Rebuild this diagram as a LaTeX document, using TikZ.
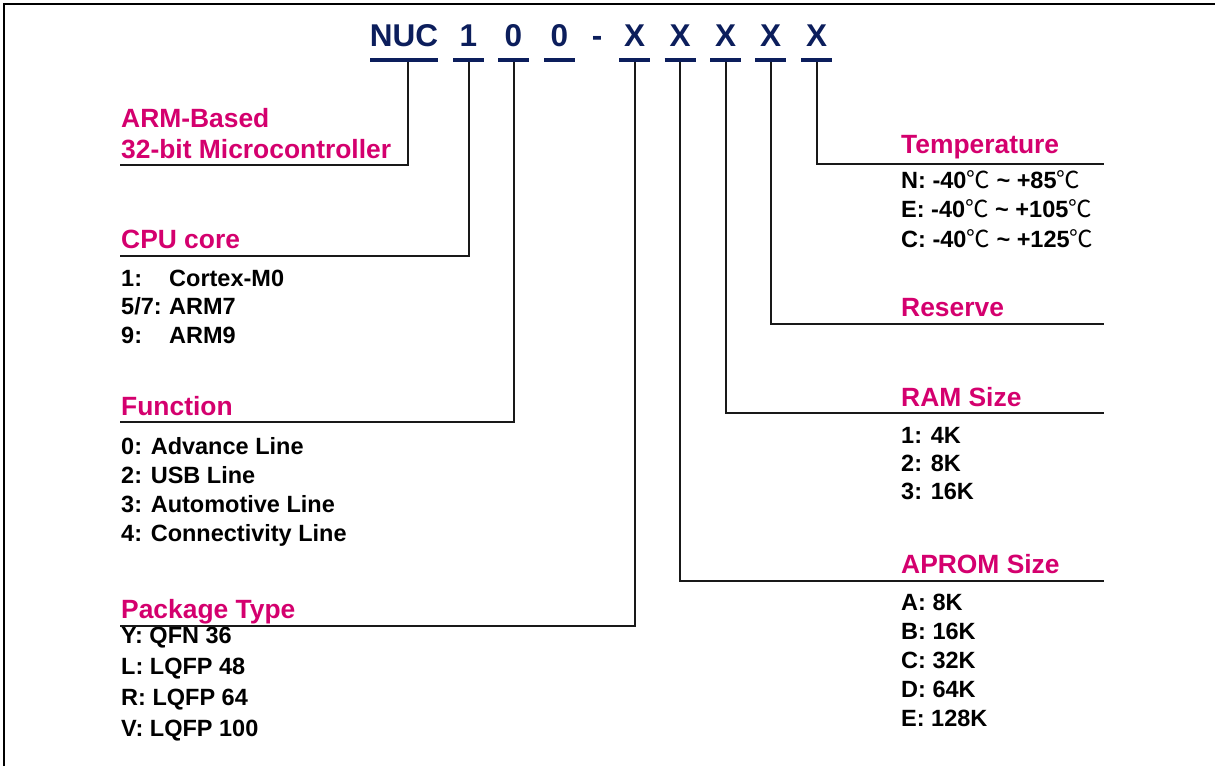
\documentclass[tikz,border=0pt]{standalone}
\usepackage{fontspec}
\setmainfont{Liberation Sans}
\newfontfamily\cjk{Noto Sans CJK SC}
\usepackage{tikz}
\usetikzlibrary{positioning,calc}
\definecolor{navy}{RGB}{12,30,92}
\definecolor{rose}{RGB}{212,0,110}
\newcommand{\degC}{{\cjk\mdseries ℃}}

\begin{document}
\begin{tikzpicture}[x=1pt,y=-1pt,
    hdr/.style={anchor=base,inner sep=0pt,text=navy,font=\fontsize{31.5}{36}\selectfont\bfseries},
    title/.style={anchor=base west,inner sep=0pt,text=rose,font=\fontsize{26.4}{30}\selectfont\bfseries},
    item/.style={anchor=base west,inner sep=0pt,font=\fontsize{23.5}{28}\selectfont\bfseries},
    ul/.style={draw=navy,line width=4pt},
    conn/.style={draw=black!90,line width=2pt}]
    \useasboundingbox (0,0) rectangle (1215,766);
    \draw[line width=2.5pt] (4,766) -- (4,4) -- (1215,4);

    % part number
    \node[hdr] (nuc) at (404,46) {NUC};
    \node[hdr] (dcore) at (468.5,46) {1};
    \node[hdr] (dfunc) at (513.5,46) {0};
    \node[hdr] (dspare) at (559.5,46) {0};
    \node[hdr] (dash) at (597,46) {-};
    \node[hdr] (xpkg) at (634.5,46) {X};
    \node[hdr] (xrom) at (680,46) {X};
    \node[hdr] (xram) at (725.5,46) {X};
    \node[hdr] (xrsv) at (770.5,46) {X};
    \node[hdr] (xtemp) at (816.5,46) {X};
    \draw[ul] ([xshift=-34pt,yshift=-14pt]nuc.base) -- ([xshift=34pt,yshift=-14pt]nuc.base);
    \foreach \n in {dcore,dfunc,dspare,xpkg,xrom,xram,xrsv,xtemp}
      \draw[ul] ([xshift=-15.5pt,yshift=-14pt]\n.base) -- ([xshift=15.5pt,yshift=-14pt]\n.base);

    % left column
    \node[title] (arm) at (121,127) {ARM-Based};
    \node[title] (armb) at (121,158) {32-bit Microcontroller};
    \coordinate (armend) at (120,165);

    \node[title] (cpu) at (121,248) {CPU core};
    \coordinate (cpuend) at (120,256);
    \node[item] (cpu1) at (121,286) {\makebox[48pt][l]{1:}Cortex-M0};
    \node[item] (cpu2) at (121,314.5) {\makebox[48pt][l]{5/7:}ARM7};
    \node[item] (cpu3) at (121,343) {\makebox[48pt][l]{9:}ARM9};

    \node[title] (fn) at (121,415) {Function};
    \coordinate (fnend) at (120,422);
    \foreach \t [count=\i] in {0: Advance Line, 2: USB Line, 3: Automotive Line, 4: Connectivity Line}
      \node[item] (fn\i) at (121,{454+29*(\i-1)}) {\t};

    \node[title] (pkg) at (121,618) {Package Type};
    \coordinate (pkgend) at (120,626);
    \foreach \t [count=\i] in {Y: QFN 36, L: LQFP 48, R: LQFP 64, V: LQFP 100}
      \node[item] (pkg\i) at (121,{643+31*(\i-1)}) {\t};

    % right column
    \node[title] (temp) at (901,153) {Temperature};
    \coordinate (tempend) at (1104,164);
    \foreach \t [count=\i] in {N: -40\degC{} \textasciitilde{} +85\degC,
        E: -40\degC{} \textasciitilde{} +105\degC, C: -40\degC{} \textasciitilde{} +125\degC}
      \node[item] (temp\i) at (901,{188+29.5*(\i-1)}) {\t};

    \node[title] (rsv) at (901,316) {Reserve};
    \coordinate (rsvend) at (1104,324);

    \node[title] (ram) at (901,406) {RAM Size};
    \coordinate (ramend) at (1104,413);
    \foreach \t [count=\i] in {1: 4K, 2: 8K, 3: 16K}
      \node[item] (ram\i) at (901,{443+28*(\i-1)}) {\t};

    \node[title] (rom) at (901,573) {APROM Size};
    \coordinate (romend) at (1104,581);
    \foreach \t [count=\i] in {A: 8K, B: 16K, C: 32K, D: 64K, E: 128K}
      \node[item] (rom\i) at (901,{610+29*(\i-1)}) {\t};

    % connectors
    \draw[conn] ([xshift=4pt,yshift=-16pt]nuc.base) |- (armend);
    \draw[conn] ([yshift=-16pt]dcore.base) |- (cpuend);
    \draw[conn] ([yshift=-16pt]dfunc.base) |- (fnend);
    \draw[conn] ([yshift=-16pt]xpkg.base) |- (pkgend);
    \draw[conn] ([yshift=-16pt]xrom.base) |- (romend);
    \draw[conn] ([yshift=-16pt]xram.base) |- (ramend);
    \draw[conn] ([yshift=-16pt]xrsv.base) |- (rsvend);
    \draw[conn] ([yshift=-16pt]xtemp.base) |- (tempend);
  \end{tikzpicture}
\end{document}
